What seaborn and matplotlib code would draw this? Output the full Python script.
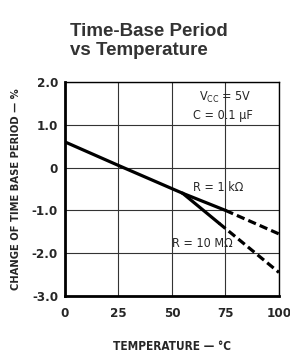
import matplotlib
matplotlib.use("Agg")
import matplotlib.pyplot as plt
import seaborn as sns
from matplotlib import font_manager

# Values
main_temp = [0, 25, 55]
main_change = [0.6, 0.05, -0.6]

r1k_solid_temp = [55, 75]
r1k_solid_change = [-0.6, -1.0]
r1k_dash_temp = [75, 100]
r1k_dash_change = [-1.0, -1.55]

r10m_solid_temp = [55, 72]
r10m_solid_change = [-0.6, -1.3]
r10m_dash_temp = [72, 100]
r10m_dash_change = [-1.3, -2.45]

x_ticks = [0, 25, 50, 75, 100]
y_ticks = [-3.0, -2.0, -1.0, 0, 1.0, 2.0]
y_tick_labels = ["-3.0", "-2.0", "-1.0", "0", "1.0", "2.0"]

sns.set_theme(style="white")
names = {f.name for f in font_manager.fontManager.ttflist}
print(sorted(n for n in names if "Condensed" in n or "Narrow" in n))
narrow = [n for n in ["Liberation Sans Narrow", "DejaVu Sans Condensed"] if n in names]
plt.rcParams['font.family'] = narrow + ['DejaVu Sans']
plt.rcParams['font.stretch'] = 'condensed'

fig = plt.figure(figsize=(2.9, 3.53), dpi=100)
ax = fig.add_axes([0.224, 0.1615, 0.738, 0.6062])

lw = 2.3
dash = (0, (2.6, 1.3))
sns.lineplot(x=main_temp, y=main_change, ax=ax, color="black", lw=lw)
sns.lineplot(x=r1k_solid_temp, y=r1k_solid_change, ax=ax, color="black", lw=lw)
sns.lineplot(x=r1k_dash_temp, y=r1k_dash_change, ax=ax, color="black", lw=lw, linestyle=dash)
sns.lineplot(x=r10m_solid_temp, y=r10m_solid_change, ax=ax, color="black", lw=lw)
sns.lineplot(x=r10m_dash_temp, y=r10m_dash_change, ax=ax, color="black", lw=lw, linestyle=dash)

ax.set_xlim(0, 100)
ax.set_ylim(-3.0, 2.0)
ax.set_xticks(x_ticks)
ax.set_yticks(y_ticks)
ax.set_yticklabels(y_tick_labels)
ax.grid(True, color="#333333", linewidth=0.8)
ax.tick_params(axis="both", length=0, labelsize=9.5)
ax.tick_params(axis="x", pad=8)
ax.tick_params(axis="y", pad=5)
for lab in ax.get_xticklabels() + ax.get_yticklabels():
    lab.set_fontweight("bold")

for side in ["top", "right"]:
    ax.spines[side].set_color("black")
    ax.spines[side].set_linewidth(1.0)
for side in ["left", "bottom"]:
    ax.spines[side].set_color("black")
    ax.spines[side].set_linewidth(2.0)

ax.set_xlabel("TEMPERATURE — °C", fontsize=8.5, fontweight="bold", labelpad=14)
ax.set_ylabel("CHANGE OF TIME BASE PERIOD — %", fontsize=8, fontweight="bold", labelpad=8)

ax.text(75, 1.63, r"V$_{\mathregular{CC}}$ = 5V", fontsize=9, ha="center", va="center")
ax.text(74, 1.21, "C = 0.1 μF", fontsize=9, ha="center", va="center")
ax.text(71.5, -0.47, "R = 1 kΩ", fontsize=9, ha="center", va="center")
ax.text(64, -1.77, "R = 10 MΩ", fontsize=9, ha="center", va="center")

fig.text(0.241, 0.885, "Time-Base Period\nvs Temperature", fontsize=13.5,
         fontweight="bold", color="#333333", ha="left", va="center",
         family=["Liberation Sans", "DejaVu Sans"], stretch="normal", linespacing=1.15)

fig.savefig("out.png", dpi=100)
